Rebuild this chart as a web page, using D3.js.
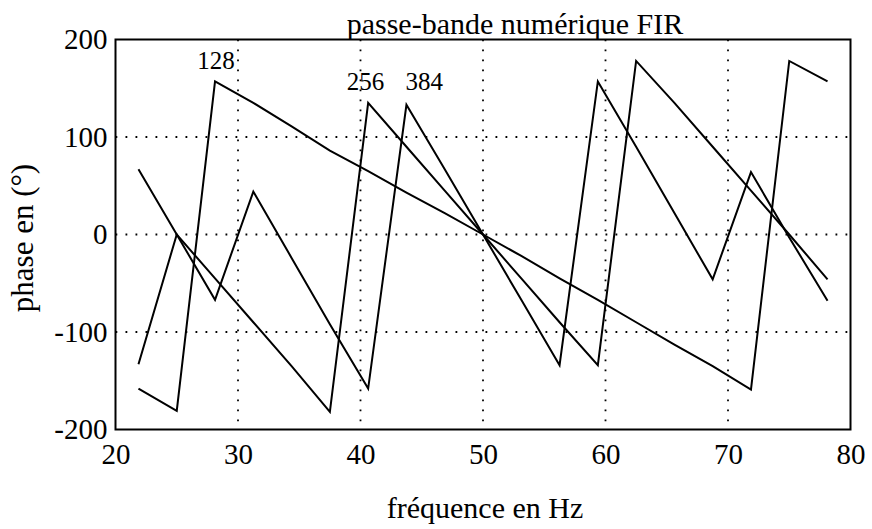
<!DOCTYPE html>
<html>
<head>
<meta charset="utf-8">
<script src="https://cdn.jsdelivr.net/npm/d3@7"></script>
<style>
  body { margin: 0; background: #fff; }
  text { font-family: "Liberation Serif", "Times New Roman", serif; fill: #000; }
</style>
</head>
<body>
<div id="chart"></div>
<script>
// frequency samples (Hz), step 3.125
var freq = [21.875, 25, 28.125, 31.25, 34.375, 37.5, 40.625, 43.75, 46.875, 50,
            53.125, 56.25, 59.375, 62.5, 65.625, 68.75, 71.875, 75, 78.125];

// phase (deg), one array per filter length
var phase128 = [-158, -181, 157, 135, 111, 86, 65, 43, 22, 0,
                -22, -45, -67, -90, -113, -135, -159, 178, 157];
var phase256 = [-133, 0, -45, -90, -135, -182, 135, 90, 45, 0,
                -45, -90, -134, 178, 135, 90, 45, 0, -46];
var phase384 = [67, 0, -67, 44, -24, -92, -158, 133, 67, 0,
                -67, -134, 157, 90, 22, -46, 64, -3, -68];

var labels = [
  {name: "128", f: 28.2, p: 170},
  {name: "256", f: 40.4, p: 148},
  {name: "384", f: 45.2, p: 148}
];

var xTicks = [20, 30, 40, 50, 60, 70, 80];
var yTicks = [-200, -100, 0, 100, 200];
var xGrid = [30, 40, 50, 60, 70];
var yGrid = [-100, 0, 100];

var width = 872;
var height = 529;

var svg = d3.select("#chart")
  .append("svg")
  .attr("width", width)
  .attr("height", height);

var x = d3.scaleLinear()
  .domain([20, 80])
  .range([115.5, 850.5]);

var y = d3.scaleLinear()
  .domain([-200, 200])
  .range([429.5, 39.5]);

// dotted grid
svg.selectAll(".vgrid")
  .data(xGrid)
  .enter()
  .append("line")
  .attr("x1", function(d) { return x(d); })
  .attr("x2", function(d) { return x(d); })
  .attr("y1", y(200))
  .attr("y2", y(-200))
  .attr("stroke", "#000")
  .attr("stroke-width", 1.8)
  .attr("stroke-dasharray", "1.8,8.2");

svg.selectAll(".hgrid")
  .data(yGrid)
  .enter()
  .append("line")
  .attr("x1", x(20))
  .attr("x2", x(80))
  .attr("y1", function(d) { return y(d); })
  .attr("y2", function(d) { return y(d); })
  .attr("stroke", "#000")
  .attr("stroke-width", 1.8)
  .attr("stroke-dasharray", "1.8,8.2");

// axes (labels only, the frame is drawn below)
var plain = function(d) { return String(d); };

var xAxis = svg.append("g")
  .attr("transform", "translate(0," + y(-200) + ")")
  .call(d3.axisBottom(x).tickValues(xTicks).tickSize(0).tickPadding(14).tickFormat(plain));

var yAxis = svg.append("g")
  .attr("transform", "translate(" + x(20) + ",0)")
  .call(d3.axisLeft(y).tickValues(yTicks).tickSize(0).tickPadding(8).tickFormat(plain));

xAxis.select(".domain").remove();
yAxis.select(".domain").remove();
xAxis.attr("font-family", null);
yAxis.attr("font-family", null);
xAxis.selectAll("text").style("font-size", "29px");
yAxis.selectAll("text").style("font-size", "29px");

// frame
svg.append("rect")
  .attr("x", x(20))
  .attr("y", y(200))
  .attr("width", x(80) - x(20))
  .attr("height", y(-200) - y(200))
  .attr("fill", "none")
  .attr("stroke", "#000")
  .attr("stroke-width", 2);

// phase curves
var line = d3.line()
  .x(function(d, i) { return x(freq[i]); })
  .y(function(d) { return y(d); });

[phase128, phase256, phase384].forEach(function(s) {
  svg.append("path")
    .datum(s)
    .attr("d", line)
    .attr("fill", "none")
    .attr("stroke", "#000")
    .attr("stroke-width", 2)
    .attr("stroke-linejoin", "miter");
});

// curve labels
svg.selectAll(".lab")
  .data(labels)
  .enter()
  .append("text")
  .attr("x", function(d) { return x(d.f); })
  .attr("y", function(d) { return y(d.p); })
  .attr("text-anchor", "middle")
  .style("font-size", "25px")
  .text(function(d) { return d.name; });

// title and axis titles
svg.append("text")
  .attr("x", 515)
  .attr("y", 34)
  .attr("text-anchor", "middle")
  .style("font-size", "30px")
  .text("passe-bande numérique FIR");

svg.append("text")
  .attr("x", 485)
  .attr("y", 518)
  .attr("text-anchor", "middle")
  .style("font-size", "30px")
  .text("fréquence en Hz");

svg.append("text")
  .attr("transform", "translate(33,238) rotate(-90)")
  .attr("text-anchor", "middle")
  .style("font-size", "31px")
  .text("phase en (°)");
</script>
</body>
</html>
